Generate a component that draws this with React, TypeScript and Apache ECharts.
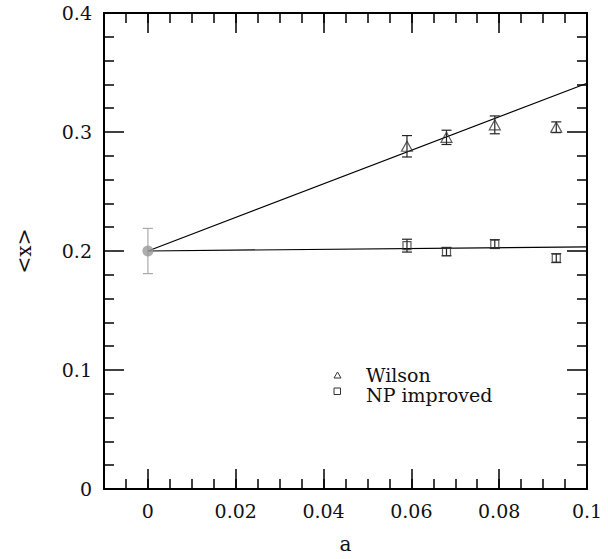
import React, { useEffect, useRef } from "react";
import * as echarts from "echarts";

// ---- data ----
const xTicks = [0, 0.02, 0.04, 0.06, 0.08, 0.1];
const yTicks = [0, 0.1, 0.2, 0.3, 0.4];

const latticeA = [0.059, 0.068, 0.079, 0.093];
const wilsonY = [0.288, 0.2955, 0.306, 0.304];
const wilsonErr = [0.009, 0.006, 0.0075, 0.0045];
const npY = [0.2045, 0.1995, 0.2058, 0.194];
const npErr = [0.0054, 0.0035, 0.0037, 0.0037];

const contX = [0];
const contY = [0.2];
const contErr = [0.019];

const wilsonFitX = [0, 0.1];
const wilsonFitY = [0.2, 0.341];
const npFitX = [0, 0.1];
const npFitY = [0.2, 0.2035];

const legendNames = ["Wilson", "NP improved"];

const FONT = "DejaVu Serif";

function errorBarSeries(xs: number[], ys: number[], es: number[], color: string, hw: number) {
  return {
    type: "custom",
    xAxisIndex: 0,
    yAxisIndex: 0,
    silent: true,
    z: 3,
    data: xs.map((x, i) => [x, ys[i], es[i]]),
    encode: { x: 0, y: 1 },
    renderItem: (params: any, api: any) => {
      const x = api.value(0);
      const y = api.value(1);
      const e = api.value(2);
      const top = api.coord([x, y + e]);
      const bot = api.coord([x, y - e]);
      const style = { stroke: color, lineWidth: 1.2 };
      return {
        type: "group",
        children: [
          { type: "line", shape: { x1: top[0], y1: top[1], x2: bot[0], y2: bot[1] }, style },
          { type: "line", shape: { x1: top[0] - hw, y1: top[1], x2: top[0] + hw, y2: top[1] }, style },
          { type: "line", shape: { x1: bot[0] - hw, y1: bot[1], x2: bot[0] + hw, y2: bot[1] }, style },
        ],
      };
    },
  };
}

const fmt = (v: number) => (v === 0 ? "0" : String(+v.toFixed(2)));

export default function App() {
  const ref = useRef<HTMLDivElement>(null);
  useEffect(() => {
    if (!ref.current) return;
    const chart = echarts.init(ref.current, undefined, { renderer: "svg" });
    const axisLine = { show: true, onZero: false, lineStyle: { color: "#000", width: 2 } };
    const majorTick = { show: true, inside: true, length: 20, lineStyle: { color: "#000", width: 1.5 } };
    const minorTickAx = { show: true, inside: true, length: 10, lineStyle: { color: "#000", width: 1.5 } };
    const labelStyle = { color: "#111", fontFamily: FONT, fontSize: 19 };
    const xCommon = { type: "value", min: -0.01, max: 0.1, splitLine: { show: false } };
    const yCommon = { type: "value", min: 0, max: 0.4, interval: 0.1, splitLine: { show: false } };

    chart.setOption({
      animation: false,
      backgroundColor: "#fff",
      grid: { left: 104, right: 21, top: 13, bottom: 64, containLabel: false },
      xAxis: [
        {
          ...xCommon,
          position: "bottom",
          axisLine,
          axisTick: { ...majorTick, customValues: xTicks },
          axisLabel: { ...labelStyle, customValues: xTicks, margin: 12, formatter: fmt },
          name: "a",
          nameLocation: "middle",
          nameGap: 45,
          nameTextStyle: { ...labelStyle, fontSize: 20 },
        },
        {
          ...xCommon,
          position: "bottom",
          interval: 0.005,
          axisLine: { show: false, onZero: false },
          axisTick: minorTickAx,
          axisLabel: { show: false },
        },
        {
          ...xCommon,
          position: "top",
          axisLine,
          axisTick: { ...majorTick, customValues: xTicks },
          axisLabel: { show: false },
        },
        {
          ...xCommon,
          position: "top",
          interval: 0.005,
          axisLine: { show: false, onZero: false },
          axisTick: minorTickAx,
          axisLabel: { show: false },
        },
      ],
      yAxis: [
        {
          ...yCommon,
          position: "left",
          axisLine,
          axisTick: majorTick,
          minorTick: { show: true, splitNumber: 5, length: 10, lineStyle: { color: "#000", width: 1.5 } },
          axisLabel: { ...labelStyle, margin: 12, formatter: fmt },
          name: "<x>",
          nameLocation: "middle",
          nameRotate: 90,
          nameGap: 70,
          nameTextStyle: { ...labelStyle, fontSize: 20 },
        },
        {
          ...yCommon,
          position: "right",
          axisLine,
          axisTick: majorTick,
          minorTick: { show: true, splitNumber: 5, length: 10, lineStyle: { color: "#000", width: 1.5 } },
          axisLabel: { show: false },
        },
      ],
      series: [
        {
          type: "line",
          data: wilsonFitX.map((x, i) => [x, wilsonFitY[i]]),
          showSymbol: false,
          symbol: "none",
          lineStyle: { color: "#000", width: 1.2 },
          silent: true,
          z: 2,
        },
        {
          type: "line",
          data: npFitX.map((x, i) => [x, npFitY[i]]),
          showSymbol: false,
          symbol: "none",
          lineStyle: { color: "#000", width: 1.2 },
          silent: true,
          z: 2,
        },
        errorBarSeries(latticeA, wilsonY, wilsonErr, "#222", 5),
        errorBarSeries(latticeA, npY, npErr, "#222", 5),
        errorBarSeries(contX, contY, contErr, "#aaa", 5),
        {
          name: legendNames[0],
          type: "scatter",
          data: latticeA.map((x, i) => [x, wilsonY[i]]),
          symbol: "triangle",
          symbolSize: [11, 10],
          itemStyle: { color: "rgba(255,255,255,0)", borderColor: "#333", borderWidth: 1.2 },
          z: 4,
        },
        {
          name: legendNames[1],
          type: "scatter",
          data: latticeA.map((x, i) => [x, npY[i]]),
          symbol: "rect",
          symbolSize: 8,
          itemStyle: { color: "rgba(255,255,255,0)", borderColor: "#333", borderWidth: 1.2 },
          z: 4,
        },
        {
          type: "scatter",
          data: contX.map((x, i) => [x, contY[i]]),
          symbol: "circle",
          symbolSize: 11,
          itemStyle: { color: "#999" },
          z: 5,
        },
      ],
      graphic: [
        {
          type: "polygon",
          shape: { points: [[334, 378], [341, 378], [337.5, 372]] },
          style: { fill: "none", stroke: "#333", lineWidth: 1 },
        },
        {
          type: "rect",
          shape: { x: 334, y: 388, width: 6.5, height: 6.5 },
          style: { fill: "none", stroke: "#333", lineWidth: 1 },
        },
        {
          type: "text",
          x: 366,
          y: 375,
          style: { text: legendNames[0], font: `19px "${FONT}"`, lineHeight: 19, fill: "#111", verticalAlign: "middle" },
        },
        {
          type: "text",
          x: 366,
          y: 395,
          style: { text: legendNames[1], font: `19px "${FONT}"`, lineHeight: 19, fill: "#111", verticalAlign: "middle" },
        },
      ],
    });
    return () => chart.dispose();
  }, []);
  return <div ref={ref} style={{ position: "absolute", left: 0, top: 0, width: 608, height: 559 }} />;
}
